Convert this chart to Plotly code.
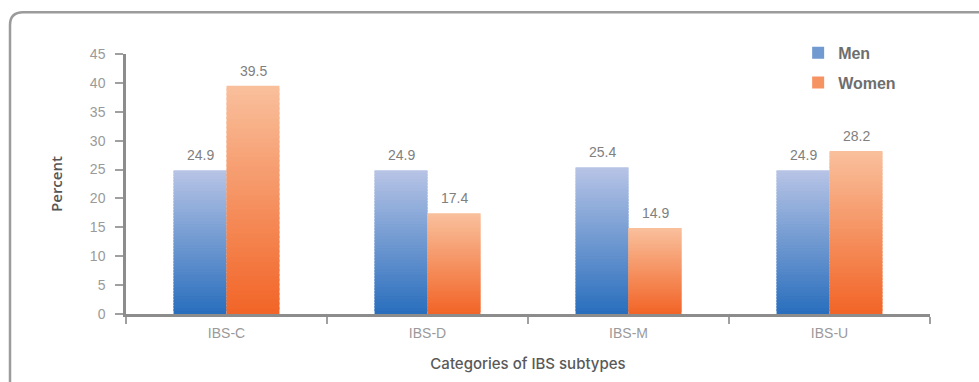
import plotly.graph_objects as go

# IBS subtype prevalence by sex (percent)
categories = ["IBS-C", "IBS-D", "IBS-M", "IBS-U"]
men = [24.9, 24.9, 25.4, 24.9]
women = [39.5, 17.4, 14.9, 28.2]
y_ticks = [0, 5, 10, 15, 20, 25, 30, 35, 40, 45]

# gradient end colours (bottom -> top) for each series
men_grad = ((42, 111, 189), (182, 195, 229))
women_grad = ((242, 101, 40), (249, 191, 155))

N_SLICES = 48
OVERLAP = 0.35  # each slice reaches slightly into the next so no seams appear


def lerp(c0, c1, t):
    return "rgb(%d,%d,%d)" % tuple(round(a + (b - a) * t) for a, b in zip(c0, c1))


fig = go.Figure()


def add_gradient_series(name, values, grad, group):
    # each bar is drawn as a stack of thin slices to give a vertical gradient
    for k in range(N_SLICES):
        t = k / (N_SLICES - 1)
        bases = [v * k / N_SLICES for v in values]
        heights = [min(v / N_SLICES + OVERLAP, v - b) for v, b in zip(values, bases)]
        fig.add_trace(go.Bar(
            x=categories,
            y=heights,
            base=bases,
            offsetgroup=group,
            legendgroup=group,
            name=name,
            showlegend=(k == N_SLICES // 2),
            marker=dict(color=lerp(grad[0], grad[1], t), line=dict(width=0)),
            hoverinfo="skip",
        ))


add_gradient_series("Men", men, men_grad, "men")
add_gradient_series("Women", women, women_grad, "women")

# value labels above each bar
half_bar_px = 26.5
annotations = []
for vals, shift in ((men, -half_bar_px), (women, half_bar_px)):
    for c, v in zip(categories, vals):
        annotations.append(dict(
            x=c, y=v, xref="x", yref="y", text=f"{v}", showarrow=False,
            xanchor="center", yanchor="bottom", xshift=shift, yshift=5,
            font=dict(family="Liberation Sans", size=14, color="#808080"),
        ))

# rounded frame around the chart, open to the right and bottom
W_PLOT, H_PLOT, L, T = 804, 262, 126, 54


def px_x(px):
    return (px - L) / W_PLOT


def px_y(py):
    return (T + H_PLOT - py) / H_PLOT


frame_path = (
    f"M {px_x(10)},{px_y(400)} L {px_x(10)},{px_y(25)} "
    f"Q {px_x(10)},{px_y(12)} {px_x(23)},{px_y(12)} L {px_x(990)},{px_y(12)}"
)

fig.update_layout(
    width=979, height=382,
    margin=dict(l=L, r=979 - L - W_PLOT, t=T, b=382 - T - H_PLOT),
    paper_bgcolor="white", plot_bgcolor="white",
    barmode="group", bargap=0.473, bargroupgap=0,
    hovermode=False,
    annotations=annotations,
    shapes=[dict(type="path", path=frame_path, xref="paper", yref="paper",
                 line=dict(color="#9b9b9b", width=2.5), layer="below")],
    legend=dict(
        x=0.836, y=1.07, xanchor="left", yanchor="top",
        bgcolor="rgba(0,0,0,0)",
        font=dict(family="Liberation Sans", size=16, color="#6e6e6e", weight="bold"),
        tracegroupgap=6,
    ),
    xaxis=dict(
        type="category", showgrid=False,
        showline=True, linecolor="#8c8c8c", linewidth=2.5,
        ticks="outside", tickson="boundaries", ticklen=7, tickwidth=1.5, tickcolor="#a0a0a0",
        ticklabelstandoff=4,
        tickfont=dict(family="Liberation Sans", size=14, color="#9a9a9a"),
        title=dict(text="Categories of IBS subtypes", standoff=19,
                   font=dict(family="Inter", size=15, color="#595959", weight=500)),
    ),
    yaxis=dict(
        range=[0, 45], tickvals=y_ticks, showgrid=False, zeroline=False,
        showline=True, linecolor="#8c8c8c", linewidth=2.5,
        ticks="outside", ticklen=8, tickwidth=1.5, tickcolor="#a0a0a0",
        ticklabelstandoff=7,
        tickfont=dict(family="Liberation Sans", size=14, color="#9a9a9a"),
        title=dict(text="Percent", standoff=24,
                   font=dict(family="Open Sans", size=15, color="#555555", weight=600)),
    ),
)

fig.write_html("out.html")
